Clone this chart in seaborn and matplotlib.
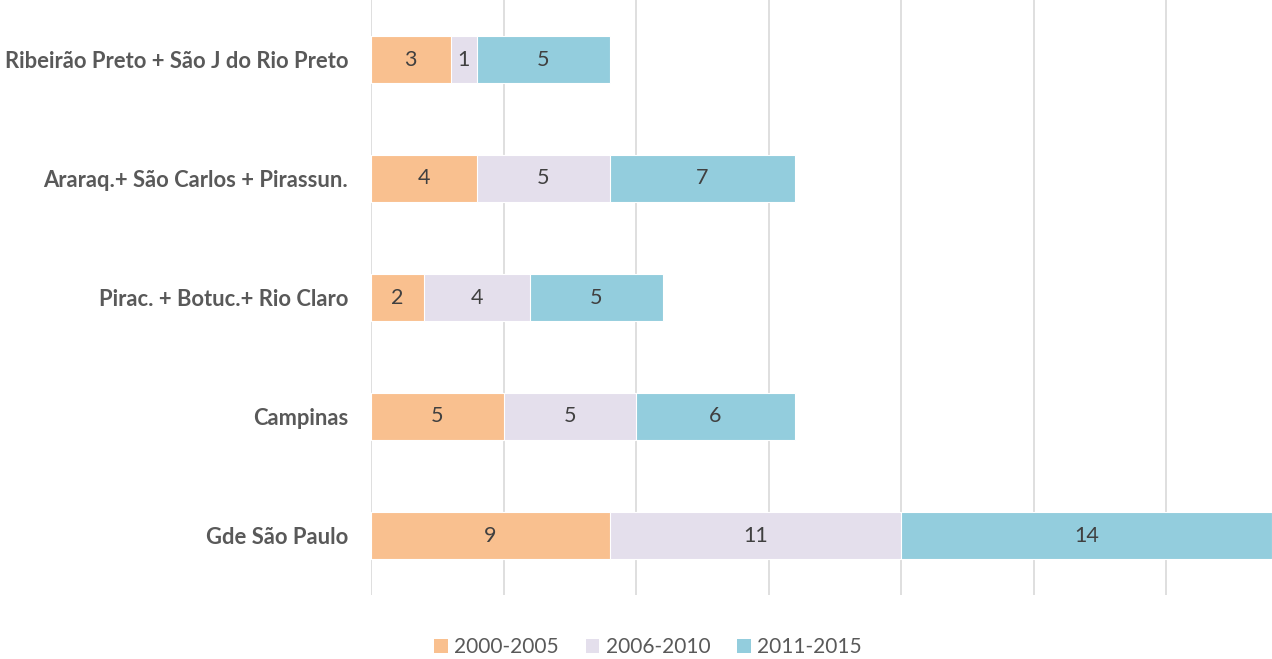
import matplotlib
matplotlib.use("Agg")
import matplotlib.pyplot as plt
import seaborn as sns
import pandas as pd
import numpy as np
from matplotlib.patches import Patch

categories = ["Ribeirão Preto + São J do Rio Preto",
              "Araraq.+ São Carlos + Pirassun.",
              "Pirac. + Botuc.+ Rio Claro",
              "Campinas",
              "Gde São Paulo"]
series_names = ["2000-2005", "2006-2010", "2011-2015"]
s2000_2005 = [3, 4, 2, 5, 9]
s2006_2010 = [1, 5, 4, 5, 11]
s2011_2015 = [5, 7, 5, 6, 14]
colors = ["#F9C08F", "#E4DFEC", "#93CDDD"]

sns.set_theme(style="white")
plt.rcParams['font.family'] = ['Lato', 'DejaVu Sans']

series = [s2000_2005, s2006_2010, s2011_2015]
cum = np.cumsum(np.array(series), axis=0)

fig = plt.figure(figsize=(12.72, 6.59), dpi=100)
ax = fig.add_axes([371/1272, 64/659, 1 - 371/1272, 595/659])

# draw cumulative layers from total downward
for i in range(len(series) - 1, -1, -1):
    df = pd.DataFrame({"cat": categories, "val": cum[i]})
    sns.barplot(data=df, x="val", y="cat", orient="h", color=colors[i],
                saturation=1, width=0.4, ax=ax, edgecolor="white",
                linewidth=0.8, zorder=2)

for i, s in enumerate(series):
    for j, v in enumerate(s):
        center = cum[i][j] - v / 2
        ax.text(center, j, str(v), ha="center", va="center",
                fontsize=15.5, color="#404040", zorder=5)

ax.set_xlim(0, 34)
ax.set_ylim(4.5, -0.5)
ax.set_xticks(np.arange(0, 35, 5))
ax.set_xticklabels([])
ax.xaxis.grid(True, color="#D9D9D9", linewidth=1.2, zorder=0)
ax.set_axisbelow(True)
ax.tick_params(axis="both", length=0)
ax.set_xlabel("")
ax.set_ylabel("")
for sp in ax.spines.values():
    sp.set_visible(False)
for lab in ax.get_yticklabels():
    lab.set_fontweight("bold")
    lab.set_fontsize(15.8)
    lab.set_color("#595959")
ax.tick_params(axis="y", pad=16.5)

handles = [Patch(facecolor=c, edgecolor="none", label=n) for c, n in zip(colors, series_names)]
leg = fig.legend(handles=handles, loc="center", bbox_to_anchor=(648/1272, 1 - 647/659), ncol=3,
                 frameon=False, fontsize=15, handlelength=0.65, handleheight=0.65,
                 handletextpad=0.3, columnspacing=1.3)
for t in leg.get_texts():
    t.set_color("#595959")

fig.savefig("out.png", dpi=100)
